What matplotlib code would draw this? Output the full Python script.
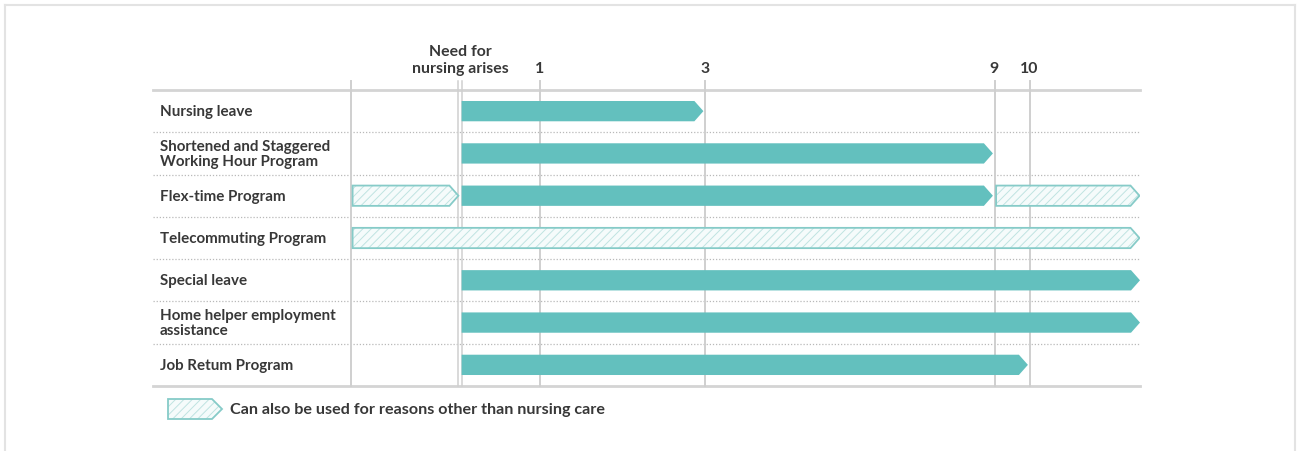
import matplotlib
matplotlib.use("Agg")
import matplotlib.pyplot as plt
from matplotlib.patches import Polygon
from matplotlib.lines import Line2D

plt.rcParams['font.family'] = ['Lato', 'DejaVu Sans']
plt.rcParams['hatch.linewidth'] = 0.7

# ---------------- data ----------------
programs = [
    "Nursing leave",
    "Shortened and Staggered\nWorking Hour Program",
    "Flex-time Program",
    "Telecommuting Program",
    "Special leave",
    "Home helper employment\nassistance",
    "Job Retum Program",
]
# schematic time axis (milestones)
milestones = ["start", "arises", "1", "3", "9", "10", "end"]
milestone_labels = ["", "Need for\nnursing arises", "1", "3", "9", "10", ""]
milestone_pos = [351, 460, 540, 705, 994.5, 1029.5, 1140]

# nursing-care use (solid arrows)
care_start = ["arises", "arises", "arises", None, "arises", "arises", "arises"]
care_end = ["3", "9", "9", None, "end", "end", "10"]

# also usable for other reasons (hatched arrows)
other_rows = [2, 2, 3]
other_start = ["start", "9", "start"]
other_end = ["arises", "end", "end"]

legend_text = "Can also be used for reasons other than nursing care"

# ---------------- style ----------------
TEAL = "#63c0be"
HATCH_FACE = "#f5fbfb"
HATCH_LINE = "#bfe3e1"
HATCH_EDGE = "#86cbc8"
GRID = "#cfcfcf"
TEXT = "#383838"
BAR_H = 0.48
TIP = 9
GAP = 1.6

pos = dict(zip(milestones, milestone_pos))

W, H = 1297, 452
fig = plt.figure(figsize=(W / 100, H / 100), dpi=100)
left, right, top, bottom = 153, 1140, 91, 387
ax = fig.add_axes([left / W, (H - bottom) / H, (right - left) / W, (bottom - top) / H])
ax.set_xlim(left, right)
n = len(programs)
ax.set_ylim(n - 0.5, -0.5)
for s in ax.spines.values():
    s.set_visible(False)
ax.set_yticks([])

# frame around the figure
fig.add_artist(Line2D([5 / W, 5 / W], [0, 1 - 6 / H], color="#e3e3e3", lw=1.5))
fig.add_artist(Line2D([1295 / W, 1295 / W], [0, 1 - 6 / H], color="#e3e3e3", lw=1.5))
fig.add_artist(Line2D([5 / W, 1295 / W], [1 - 6 / H, 1 - 6 / H], color="#e3e3e3", lw=1.5))

# top tick labels
tick_idx = [i for i, l in enumerate(milestone_labels) if l]
ax.xaxis.tick_top()
ax.set_xticks([milestone_pos[i] for i in tick_idx],
              [milestone_labels[i] for i in tick_idx])
ax.tick_params(axis="x", length=0, pad=11.0, labelsize=11.4, labelcolor=TEXT)
for lab in ax.get_xticklabels():
    lab.set_fontweight("bold")
    lab.set_linespacing(1.22)

# horizontal lines
ax.axhline(-0.5, color="#d4d4d4", lw=2, clip_on=False, zorder=1)
ax.axhline(n - 0.5, color="#d4d4d4", lw=2, clip_on=False, zorder=1)
for i in range(n - 1):
    ax.axhline(i + 0.5, color="#b9b9b9", lw=0.9, ls=(0, (1, 1.5)), zorder=1)

# vertical lines
ext = 1 + 9 / (bottom - top)
for m in ["start", "1", "3", "9", "10"]:
    ax.axvline(pos[m], ymin=0, ymax=ext, color=GRID, lw=1.4, clip_on=False, zorder=1)
for d in (-1.7, 1.7):
    ax.axvline(pos["arises"] + d, ymin=0, ymax=ext, color=GRID, lw=1.1, clip_on=False, zorder=1)


def arrow_pts(x0, x1, y, h=BAR_H, tip=TIP):
    return [(x0, y - h / 2), (x1 - tip, y - h / 2), (x1, y),
            (x1 - tip, y + h / 2), (x0, y + h / 2)]


def hatched(x0, x1, y, h=BAR_H, tip=TIP, clip=True):
    pts = arrow_pts(x0, x1, y, h, tip)
    ax.add_patch(Polygon(pts, closed=True, facecolor=HATCH_FACE, edgecolor=HATCH_LINE,
                         hatch="////", lw=0, zorder=3, clip_on=clip))
    ax.add_patch(Polygon(pts, closed=True, fill=False, edgecolor=HATCH_EDGE,
                         lw=1.3, zorder=4, joinstyle="miter", clip_on=clip))


# solid bars
for i, (s, e) in enumerate(zip(care_start, care_end)):
    if s is None:
        continue
    x0 = pos[s] + GAP
    x1 = pos[e] - (GAP if e != "end" else 0)
    ax.add_patch(Polygon(arrow_pts(x0, x1, i), closed=True, facecolor=TEAL,
                         edgecolor="none", zorder=3))

# hatched bars
for r, s, e in zip(other_rows, other_start, other_end):
    x0 = pos[s] + GAP
    x1 = pos[e] - (GAP if e != "end" else 0.5)
    hatched(x0, x1, r)

# row labels
for i, p in enumerate(programs):
    ax.text(160, i, p, ha="left", va="center", fontsize=10.9, fontweight="bold",
            color=TEXT, linespacing=1.15, zorder=5)

# legend
ly = n - 0.5 + (410 - bottom) / ((bottom - top) / n)
lh = 20 / ((bottom - top) / n)
hatched(168, 222, ly, h=lh, tip=10, clip=False)
ax.text(230, ly, legend_text, ha="left", va="center", fontsize=11.6,
        fontweight="bold", color=TEXT, clip_on=False)

fig.savefig("out.png", dpi=100, facecolor="white")
